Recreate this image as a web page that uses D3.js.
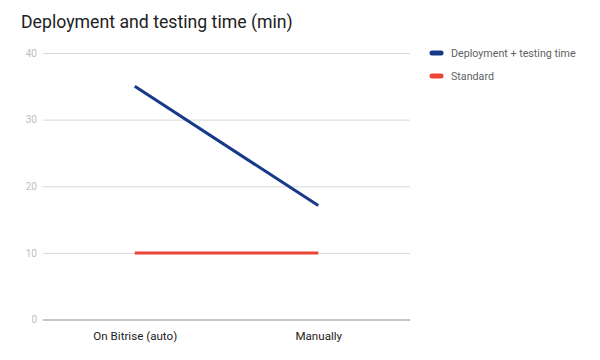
<!DOCTYPE html>
<html><head><meta charset="utf-8">
<script src="https://cdn.jsdelivr.net/npm/d3@7"></script>
<style>body{margin:0;background:#fff;} svg{display:block;font-family:Roboto,"Noto Sans",sans-serif;}</style>
</head><body><svg id="c" width="600" height="360"></svg>
<script>
const categories = ["On Bitrise (auto)", "Manually"];
const deployment = [35, 17.1];
const standard = [10, 10];
const yTicks = [0, 10, 20, 30, 40];
const seriesNames = ["Deployment + testing time", "Standard"];
const colors = ["#17398a", "#ec4538"];

const svg = d3.select("#c");
const m = {l:43, r:190, t:53, b:40.5};
const W = 600, H = 360;
const x = d3.scalePoint().domain(categories).range([m.l, W - m.r]).padding(0.5);
const y = d3.scaleLinear().domain([0, 40]).range([H - m.b, m.t]);

svg.append("text").attr("x", 21).attr("y", 28).attr("font-size", 17.7).attr("fill", "#212121")
  .text("Deployment and testing time (min)");

const ya = svg.append("g").attr("transform", `translate(${m.l},0)`)
  .call(d3.axisLeft(y).tickValues(yTicks).tickSize(-(W - m.r - m.l)).tickPadding(6));
ya.select(".domain").remove();
ya.selectAll(".tick line").attr("stroke", d => d === 0 ? "#888" : "#d9d9d9");
ya.selectAll(".tick text").attr("fill", "#bdbdbd").attr("font-size", 10).attr("font-family", "Roboto");

const xa = svg.append("g").attr("transform", `translate(0,${H - m.b})`)
  .call(d3.axisBottom(x).tickSize(0).tickPadding(12));
xa.select(".domain").remove();
xa.selectAll(".tick text").attr("fill", "#222").attr("font-size", 11.6).attr("font-family", "Roboto");

const line = d3.line().x((d, i) => x(categories[i])).y(d => y(d));
[deployment, standard].forEach((s, k) => {
  svg.append("path").datum(s).attr("d", line).attr("fill", "none")
    .attr("stroke", colors[k]).attr("stroke-width", 3);
});

const lg = svg.append("g");
seriesNames.forEach((n, i) => {
  const yy = 53 + i * 23;
  lg.append("line").attr("x1", 432).attr("x2", 441).attr("y1", yy).attr("y2", yy)
    .attr("stroke", colors[i]).attr("stroke-width", 5).attr("stroke-linecap", "round");
  lg.append("text").attr("x", 451).attr("y", yy + 4).attr("font-size", 10.7).attr("fill", "#5f5f5f").text(n);
});
</script></body></html>
